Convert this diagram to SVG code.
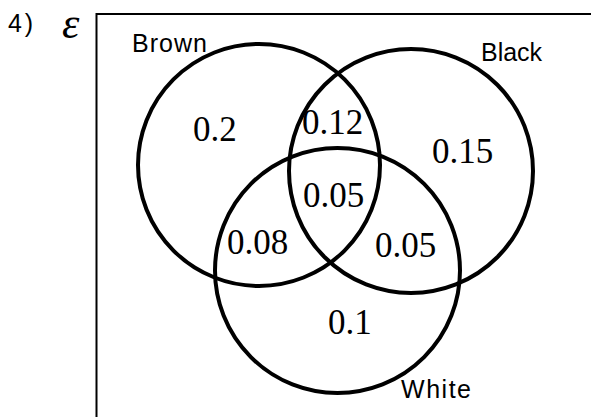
<svg xmlns="http://www.w3.org/2000/svg" width="591" height="417" viewBox="0 0 591 417">
<style>
.c{fill:none;stroke:#000;stroke-width:4}
.lab{font-family:"Liberation Sans",Arial,sans-serif;font-size:25px;fill:#000}
.num{font-family:"Liberation Serif","Times New Roman",serif;font-size:35px;fill:#000}
</style>
<rect width="591" height="417" fill="#fff"/>
<text x="8" y="32" font-family="Liberation Sans, Arial, sans-serif" font-size="25" textLength="25">4)</text>
<text x="62" y="38" font-family="Liberation Serif, serif" font-style="italic" font-size="44">ε</text>
<g id="universe"><path d="M96.5,417 V14 H591" fill="none" stroke="#000" stroke-width="2"/></g>
<g id="brown"><circle class="c" cx="259" cy="165" r="121"/><text class="lab" x="132" y="52" textLength="75">Brown</text></g>
<g id="black"><circle class="c" cx="411" cy="171" r="122"/><text class="lab" x="481" y="61" textLength="61">Black</text></g>
<g id="white"><circle class="c" cx="337.5" cy="270.5" r="122.5"/><text class="lab" x="401" y="398" textLength="70">White</text></g>
<g id="values">
<text class="num" x="193" y="141">0.2</text>
<text class="num" x="302" y="134">0.12</text>
<text class="num" x="432" y="163">0.15</text>
<text class="num" x="303" y="207">0.05</text>
<text class="num" x="227" y="254">0.08</text>
<text class="num" x="375" y="257">0.05</text>
<text class="num" x="328" y="334">0.1</text>
</g>
<g id="connectors"></g>
</svg>
